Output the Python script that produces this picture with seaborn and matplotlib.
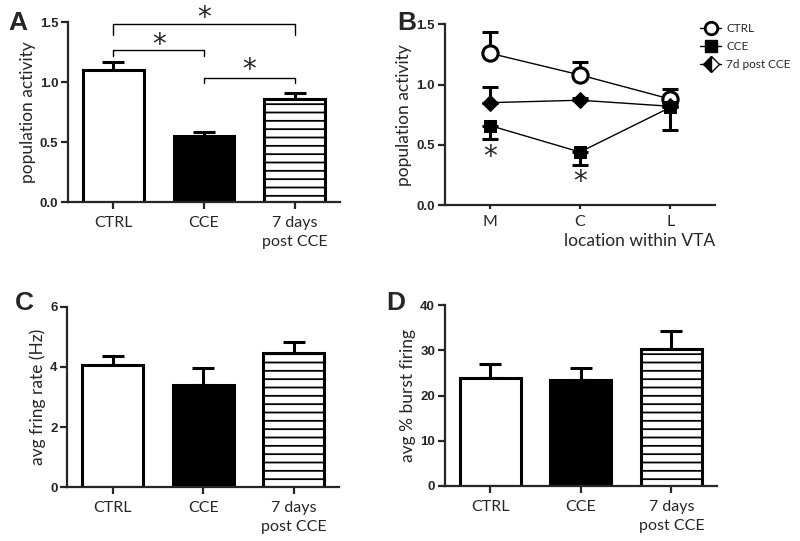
import numpy as np
import pandas as pd
import matplotlib
matplotlib.use('Agg')
import matplotlib.pyplot as plt
from matplotlib.lines import Line2D
from matplotlib.ticker import FormatStrFormatter
import seaborn as sns

# ===================== data =====================
groups = ['CTRL', 'CCE', '7 days\npost CCE']
pop_mean = [1.10, 0.55, 0.86]
pop_sem = [0.07, 0.03, 0.05]
rate_mean = [4.05, 3.40, 4.45]
rate_sem = [0.32, 0.55, 0.38]
burst_mean = [23.8, 23.4, 30.4]
burst_sem = [3.1, 2.7, 3.8]

locations = ['M', 'C', 'L']
ctrl_loc = [1.26, 1.08, 0.88]
ctrl_loc_sem = [0.18, 0.11, 0.08]
cce_loc = [0.66, 0.44, 0.81]
cce_loc_sem = [0.11, 0.11, 0.19]
post_loc = [0.85, 0.87, 0.82]
post_loc_sem = [0.13, 0.02, 0.03]

# significance brackets panel A: (left group, right group, top, foot)
brackets = [(0, 2, 1.48, 1.39), (0, 1, 1.27, 1.22), (1, 2, 1.03, 0.99)]
star_heights = [1.53, 1.31, 1.10]
# stars panel B under CCE points
loc_star_idx = [0, 1]
loc_star_y = [0.40, 0.19]

# ===================== style =====================
sns.set_style('ticks')
plt.rcParams['font.family'] = ['Lato', 'DejaVu Sans']
plt.rcParams['hatch.linewidth'] = 1.3
plt.rcParams['axes.linewidth'] = 1.6

LW = 2.2
label_size = 12.5
cat_size = 11.5


def style_axes(ax):
    sns.despine(ax=ax)
    ax.tick_params(axis='both', width=1.6, length=5, direction='out', pad=2)
    ax.tick_params(axis='x', pad=5)
    for t in ax.get_yticklabels():
        t.set_family('Liberation Sans')
        t.set_weight('bold')
        t.set_size(9.5)


def bar_panel(ax, means, sems, ylim, yticks, ylabel):
    df = pd.DataFrame({'group': groups, 'value': means})
    sns.barplot(data=df, x='group', y='value', ax=ax, width=0.67,
                color='white', edgecolor='black', linewidth=LW,
                errorbar=None, zorder=2)
    ax.patches[1].set_facecolor('black')
    ax.patches[2].set_hatch('--')
    ax.errorbar(range(3), means, yerr=[[0, 0, 0], sems], fmt='none',
                ecolor='black', elinewidth=LW, capsize=8, capthick=LW,
                zorder=1)
    ax.set_xlim(-0.5, 2.5)
    ax.set_ylim(*ylim)
    ax.set_yticks(yticks)
    ax.set_xlabel('')
    ax.set_ylabel(ylabel, fontsize=label_size, labelpad=3)
    ax.set_xticks(range(3))
    ax.set_xticklabels(groups, fontsize=cat_size, linespacing=1.45)


fig = plt.figure(figsize=(8, 5.41), dpi=100)
axA = fig.add_axes([0.085, 0.6266, 0.34, 0.3327])
axB = fig.add_axes([0.556, 0.621, 0.338, 0.334])
axC = fig.add_axes([0.084, 0.0993, 0.34, 0.334])
axD = fig.add_axes([0.556, 0.1017, 0.34, 0.334])

# ---------- A ----------
bar_panel(axA, pop_mean, pop_sem, (0, 1.5), [0, 0.5, 1.0, 1.5],
          'population activity')
axA.yaxis.set_major_formatter(FormatStrFormatter('%.1f'))
style_axes(axA)
for (i, j, top, foot), sy in zip(brackets, star_heights):
    axA.plot([i, i, j, j], [foot, top, top, foot], color='black', lw=1.0,
             clip_on=False)
    axA.text((i + j) / 2, sy, '*', ha='center', va='center', fontsize=20,
             family='DejaVu Sans', clip_on=False)

# ---------- B ----------
x = np.arange(len(locations))
sns.lineplot(x=x, y=ctrl_loc, ax=axB, color='black', lw=1.0, marker='o',
             markersize=11, markerfacecolor='white', markeredgecolor='black',
             markeredgewidth=2.2, zorder=3)
sns.lineplot(x=x, y=cce_loc, ax=axB, color='black', lw=1.0, marker='s',
             markersize=9, markerfacecolor='black', markeredgecolor='black',
             zorder=3)
sns.lineplot(x=x, y=post_loc, ax=axB, color='black', lw=1.0, marker='D',
             markersize=8, markerfacecolor='black', markeredgecolor='black',
             zorder=3)
axB.errorbar(x, ctrl_loc, yerr=[[0] * 3, ctrl_loc_sem], fmt='none',
             ecolor='black', elinewidth=LW, capsize=6, capthick=LW, zorder=1)
axB.errorbar(x, cce_loc, yerr=[cce_loc_sem, [0] * 3], fmt='none',
             ecolor='black', elinewidth=LW, capsize=6, capthick=LW, zorder=1)
axB.errorbar(x, post_loc, yerr=[[0] * 3, post_loc_sem], fmt='none',
             ecolor='black', elinewidth=LW, capsize=6, capthick=LW, zorder=1)
for i, sy in zip(loc_star_idx, loc_star_y):
    axB.text(x[i], sy, '*', ha='center', va='center', fontsize=20,
             family='DejaVu Sans')
axB.set_xlim(-0.5, 2.5)
axB.set_ylim(0, 1.5)
axB.set_yticks([0, 0.5, 1.0, 1.5])
axB.yaxis.set_major_formatter(FormatStrFormatter('%.1f'))
axB.set_xticks(x)
axB.set_xticklabels(locations, fontsize=cat_size)
axB.set_ylabel('population activity', fontsize=label_size, labelpad=3)
axB.set_xlabel('location within VTA', fontsize=label_size, loc='right',
               labelpad=3)
style_axes(axB)
axB.tick_params(axis='x', length=3, pad=4)

legend_handles = [
    Line2D([], [], color='black', lw=1.0, marker='o', markersize=9,
           markerfacecolor='white', markeredgewidth=2.0),
    Line2D([], [], color='black', lw=1.0, marker='s', markersize=8,
           markerfacecolor='black'),
    Line2D([], [], color='black', lw=1.0, marker='D', markersize=8,
           fillstyle='left', markerfacecolor='black',
           markerfacecoloralt='white', markeredgewidth=1.0),
]
fig.legend(legend_handles, ['CTRL', 'CCE', '7d post CCE'], loc='upper left',
           bbox_to_anchor=(0.862, 0.977), frameon=False, fontsize=8.5,
           handlelength=1.8, handletextpad=0.4, labelspacing=0.6)

# ---------- C ----------
bar_panel(axC, rate_mean, rate_sem, (0, 6), [0, 2, 4, 6],
          'avg fring rate (Hz)')
style_axes(axC)

# ---------- D ----------
bar_panel(axD, burst_mean, burst_sem, (0, 40), [0, 10, 20, 30, 40],
          'avg % burst firing')
style_axes(axD)

# panel letters
for lbl, (fx, fy) in zip('ABCD', [(0.01, 0.958), (0.497, 0.958),
                                  (0.018, 0.44), (0.483, 0.44)]):
    fig.text(fx, fy, lbl, fontsize=19, weight='bold',
             family='Liberation Sans', ha='left', va='center')

plt.savefig('out.png', dpi=100)
plt.close()
